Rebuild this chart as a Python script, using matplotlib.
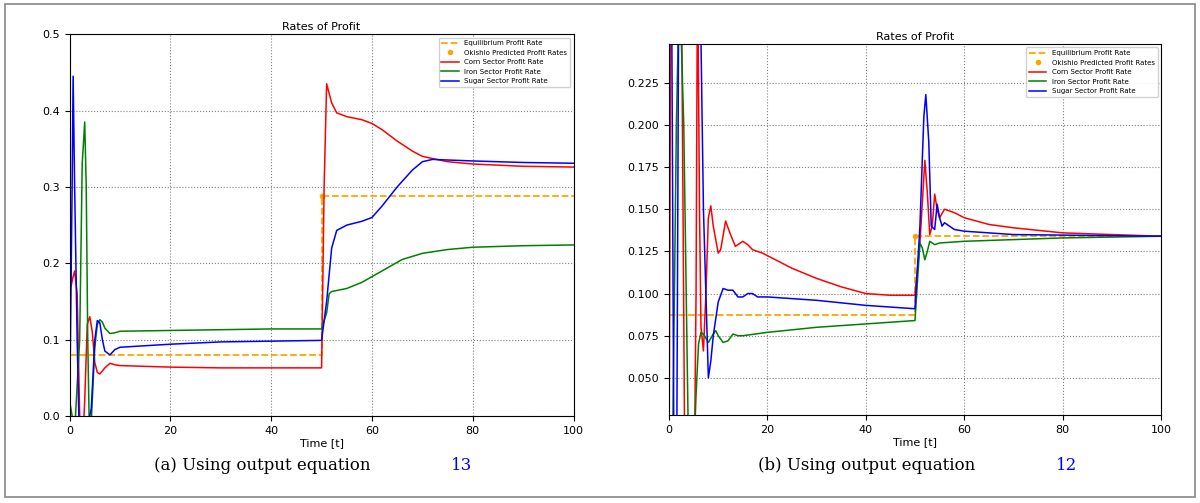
import matplotlib.pyplot as plt
from matplotlib.patches import Rectangle

# ---- left panel (output equation 13) ----
a_corn_t = [0, 0.3, 0.6, 1, 1.5, 2, 2.5, 3, 3.5, 4, 4.5, 5, 5.5, 6, 7, 8, 9, 10, 20, 30, 40, 50,
            50.5, 51, 52, 53, 55, 58, 60, 62, 65, 68, 70, 75, 80, 90, 100]
a_corn = [0.33, 0.17, 0.18, 0.19, 0.16, 0.0, -0.05, 0.02, 0.12, 0.13, 0.11, 0.07, 0.057, 0.055, 0.063,
          0.069, 0.067, 0.066, 0.064, 0.063, 0.063, 0.063,
          0.3, 0.435, 0.41, 0.397, 0.392, 0.388, 0.383, 0.375, 0.36, 0.347, 0.34, 0.333, 0.33, 0.327, 0.326]
a_iron_t = [0, 1, 2, 2.5, 3, 3.3, 3.6, 4, 4.5, 5, 5.5, 6, 6.5, 7, 8, 9, 10, 20, 30, 40, 50,
            51, 51.5, 52, 55, 58, 62, 66, 70, 75, 80, 90, 100]
a_iron = [0.02, -0.02, 0.1, 0.33, 0.385, 0.3, 0.1, -0.05, 0.02, 0.09, 0.12, 0.126, 0.123, 0.115,
          0.108, 0.109, 0.111, 0.112, 0.113, 0.114, 0.114,
          0.135, 0.16, 0.163, 0.167, 0.175, 0.19, 0.205, 0.213, 0.218, 0.221, 0.223, 0.224]
a_sugar_t = [0, 0.5, 0.7, 1, 1.5, 2, 3, 4, 4.3, 4.7, 5, 5.5, 6, 6.5, 7, 8, 9, 10, 20, 30, 40, 50,
             51, 52, 53, 55, 58, 60, 62, 65, 68, 70, 72, 80, 90, 100]
a_sugar = [0.0, 0.3, 0.445, 0.3, 0.1, -0.05, -0.02, 0.0, 0.01, 0.06, 0.1, 0.125, 0.122, 0.1, 0.085,
           0.08, 0.087, 0.09, 0.094, 0.097, 0.098, 0.099,
           0.15, 0.22, 0.243, 0.25, 0.255, 0.26, 0.275, 0.3, 0.322, 0.333, 0.336, 0.334, 0.332, 0.331]
a_eq_t = [0, 50, 50, 100]
a_eq = [0.08, 0.08, 0.288, 0.288]
a_okishio = (50, 0.288)

# ---- right panel (output equation 12) ----
b_corn_t = [0, 0.5, 1.5, 2.5, 3.2, 4, 5, 5.5, 5.8, 6.2, 6.5, 7, 7.5, 8, 8.5, 9, 10, 10.5, 11.5, 12.5,
            13.5, 15, 16, 17, 19, 25, 30, 35, 40, 45, 50,
            51, 52, 52.5, 53, 53.5, 54, 54.5, 55, 56, 58, 60, 65, 70, 80, 100]
b_corn = [0.0, 0.4, 0.4, 0.3, 0.0, -0.05, -0.05, 0.1, 0.3, 0.15, 0.08, 0.066, 0.1, 0.145, 0.152, 0.14,
          0.124, 0.126, 0.143, 0.135, 0.128, 0.131, 0.129, 0.126, 0.124, 0.115, 0.109, 0.104, 0.1,
          0.099, 0.099,
          0.13, 0.179, 0.16, 0.135, 0.14, 0.159, 0.15, 0.145, 0.15, 0.148, 0.145, 0.141, 0.139, 0.136, 0.134]
b_iron_t = [0, 0.5, 1.5, 2, 2.5, 3, 3.5, 4, 5, 5.5, 6, 6.5, 7, 8, 9, 9.5, 10, 11, 12, 13, 14, 15,
            20, 30, 40, 50, 51, 51.5, 52, 52.5, 53, 54, 55, 60, 70, 80, 100]
b_iron = [0.0, -0.05, 0.2, 0.27, 0.25, 0.2, 0.1, 0.0, 0.0, 0.04, 0.07, 0.077, 0.076, 0.071, 0.076,
          0.078, 0.075, 0.071, 0.072, 0.076, 0.075, 0.075, 0.077, 0.08, 0.082, 0.084,
          0.13, 0.127, 0.12, 0.125, 0.131, 0.129, 0.13, 0.131, 0.132, 0.133, 0.134]
b_sugar_t = [0, 0.5, 1, 1.5, 2, 3, 5, 6, 6.5, 7, 7.5, 8, 8.5, 9, 10, 11, 12, 13, 14, 15, 16, 17, 18,
             20, 30, 40, 50, 51, 51.8, 52.2, 52.8, 53.3, 54, 54.5, 55, 55.5, 56, 58, 60, 70, 100]
b_sugar = [0.3, 0.3, 0.0, -0.05, 0.3, 0.4, 0.4, 0.3, 0.25, 0.15, 0.1, 0.05, 0.06, 0.075, 0.095, 0.103,
           0.102, 0.102, 0.098, 0.098, 0.1, 0.1, 0.098, 0.098, 0.096, 0.093, 0.091,
           0.14, 0.205, 0.218, 0.19, 0.14, 0.138, 0.153, 0.145, 0.14, 0.142, 0.138, 0.137, 0.135, 0.134]
b_eq_t = [0, 50, 50, 100]
b_eq = [0.087, 0.087, 0.134, 0.134]
b_okishio = (50, 0.134)

fig = plt.figure(figsize=(12, 5.03), dpi=100)
fig.patches.append(Rectangle((0.004, 0.012), 0.992, 0.98, transform=fig.transFigure,
                             fill=False, edgecolor='#888888', linewidth=1.2))

panels = [
    ([0.058, 0.173, 0.42, 0.759], a_eq_t, a_eq, a_okishio, a_corn_t, a_corn, a_iron_t, a_iron,
     a_sugar_t, a_sugar, (0, 0.5), [0, 0.1, 0.2, 0.3, 0.4, 0.5], '%.1f'),
    ([0.5575, 0.175, 0.41, 0.7375], b_eq_t, b_eq, b_okishio, b_corn_t, b_corn, b_iron_t, b_iron,
     b_sugar_t, b_sugar, (0.028, 0.248), [0.05, 0.075, 0.1, 0.125, 0.15, 0.175, 0.2, 0.225], '%.3f'),
]

for (pos, eq_t, eq, ok, ct, cv, it, iv, st, sv, ylim, yt, fmt) in panels:
    ax = fig.add_axes(pos)
    ax.plot(eq_t, eq, '--', color='orange', lw=1.3, label='Equilibrium Profit Rate')
    ax.plot([ok[0]], [ok[1]], 'o', color='orange', ms=3, label='Okishio Predicted Profit Rates')
    ax.plot(ct, cv, color='red', lw=1.1, label='Corn Sector Profit Rate')
    ax.plot(it, iv, color='green', lw=1.1, label='Iron Sector Profit Rate')
    ax.plot(st, sv, color='blue', lw=1.1, label='Sugar Sector Profit Rate')
    ax.set_xlim(0, 100)
    ax.set_ylim(*ylim)
    ax.set_yticks(yt)
    ax.set_yticklabels([fmt % v for v in yt])
    ax.tick_params(labelsize=8)
    ax.grid(True, linestyle=':', color='gray', linewidth=0.8)
    ax.set_title('Rates of Profit', fontsize=8, pad=3)
    ax.set_xlabel('Time [t]', fontsize=8, labelpad=2)
    ax.legend(loc='upper right', fontsize=5, framealpha=0.9, handlelength=2.5)

fig.text(0.128, 0.065, '(a) Using output equation', family='DejaVu Serif', fontsize=12)
fig.text(0.376, 0.065, '13', family='DejaVu Serif', fontsize=12, color='blue')
fig.text(0.632, 0.065, '(b) Using output equation', family='DejaVu Serif', fontsize=12)
fig.text(0.88, 0.065, '12', family='DejaVu Serif', fontsize=12, color='blue')

fig.savefig('out.png', dpi=100)
